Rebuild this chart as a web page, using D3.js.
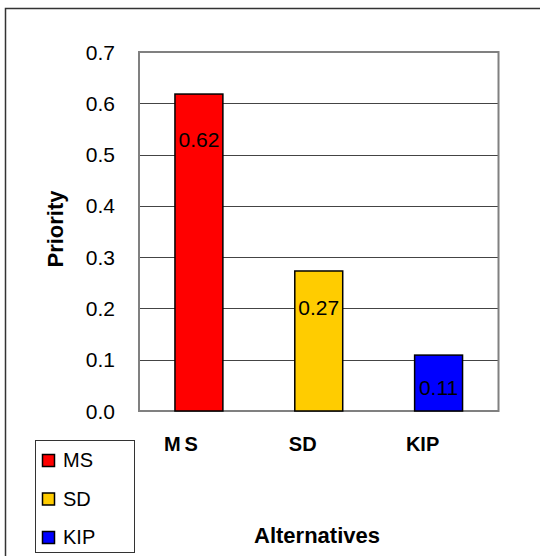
<!DOCTYPE html>
<html>
<head>
<meta charset="utf-8">
<script src="https://cdn.jsdelivr.net/npm/d3@7"></script>
<style>
  body { margin: 0; background: #fff; }
  text { font-family: "Liberation Sans", Arial, sans-serif; }
</style>
</head>
<body>
<div id="chart-container"></div>
<script>
// Chart data
const categories = ["MS", "SD", "KIP"];
const priorities = [0.618, 0.273, 0.109];
const valueLabels = ["0.62", "0.27", "0.11"];
const barColors = ["#ff0000", "#ffcc00", "#0000ff"];
const yTicks = [0, 0.1, 0.2, 0.3, 0.4, 0.5, 0.6, 0.7];

const width = 540, height = 556;
const plot = { left: 139, right: 498.5, top: 52, bottom: 411 };

const svg = d3.select("#chart-container")
  .append("svg")
  .attr("width", width)
  .attr("height", height);

svg.append("rect").attr("width", width).attr("height", height).attr("fill", "#fff");

// outer chart frame (runs off the right and bottom edge)
svg.append("rect")
  .attr("x", 5.5).attr("y", 8.5)
  .attr("width", width).attr("height", height)
  .attr("fill", "none")
  .attr("stroke", "#333")
  .attr("stroke-width", 1.5);

const yScale = d3.scaleLinear()
  .domain([0, 0.7])
  .range([plot.bottom, plot.top]);

const xScale = d3.scaleBand()
  .domain(categories)
  .range([plot.left, plot.right])
  .paddingInner(0.6)
  .paddingOuter(0.3);

// gridlines
svg.append("g")
  .selectAll("line")
  .data(yTicks.slice(1, -1))
  .enter()
  .append("line")
  .attr("x1", plot.left).attr("x2", plot.right)
  .attr("y1", d => Math.round(yScale(d)) + 0.5)
  .attr("y2", d => Math.round(yScale(d)) + 0.5)
  .attr("stroke", "#444")
  .attr("stroke-width", 1);

// plot frame
svg.append("rect")
  .attr("x", plot.left).attr("y", plot.top)
  .attr("width", plot.right - plot.left)
  .attr("height", plot.bottom - plot.top)
  .attr("fill", "none")
  .attr("stroke", "#808080")
  .attr("stroke-width", 2);

// y tick labels
svg.append("g")
  .selectAll("text")
  .data(yTicks)
  .enter()
  .append("text")
  .attr("x", 115)
  .attr("y", d => yScale(d))
  .attr("dy", "0.36em")
  .attr("text-anchor", "end")
  .attr("font-size", "21px")
  .attr("fill", "#000")
  .text(d => d3.format(".1f")(d));

// bars
svg.append("g")
  .selectAll("rect")
  .data(categories)
  .enter()
  .append("rect")
  .attr("x", d => xScale(d))
  .attr("y", (d, i) => yScale(priorities[i]))
  .attr("width", xScale.bandwidth())
  .attr("height", (d, i) => yScale(0) - yScale(priorities[i]))
  .attr("fill", (d, i) => barColors[i])
  .attr("stroke", "#000")
  .attr("stroke-width", 1.5);

// value labels inside bars
svg.append("g")
  .selectAll("text")
  .data(categories)
  .enter()
  .append("text")
  .attr("x", d => xScale(d) + xScale.bandwidth() / 2)
  .attr("y", (d, i) => {
    const top = yScale(priorities[i]);
    return top + 37 + 0.05 * (yScale(0) - top);
  })
  .attr("text-anchor", "middle")
  .attr("font-size", "21px")
  .attr("fill", "#000")
  .text((d, i) => valueLabels[i]);

// category labels
svg.append("g")
  .selectAll("text")
  .data(categories)
  .enter()
  .append("text")
  .attr("x", d => xScale(d) + xScale.bandwidth() / 2 - 16)
  .attr("y", 451)
  .attr("text-anchor", "middle")
  .attr("font-size", "20px")
  .attr("font-weight", "bold")
  .attr("letter-spacing", d => d === "MS" ? "4px" : "0px")
  .text(d => d);

// axis titles
svg.append("text")
  .attr("x", 317)
  .attr("y", 543)
  .attr("text-anchor", "middle")
  .attr("font-size", "22px")
  .attr("font-weight", "bold")
  .text("Alternatives");

svg.append("text")
  .attr("transform", "rotate(-90)")
  .attr("x", -229)
  .attr("y", 63)
  .attr("text-anchor", "middle")
  .attr("font-size", "22px")
  .attr("font-weight", "bold")
  .text("Priority");

// legend
const legend = svg.append("g");
legend.append("rect")
  .attr("x", 35.5).attr("y", 440.5)
  .attr("width", 99).attr("height", 112)
  .attr("fill", "#fff")
  .attr("stroke", "#333")
  .attr("stroke-width", 1);

const items = legend.selectAll("g.item")
  .data(categories)
  .enter()
  .append("g")
  .attr("class", "item")
  .attr("transform", (d, i) => `translate(0, ${i * 38.5})`);

items.append("rect")
  .attr("x", 42.5).attr("y", 454.5)
  .attr("width", 12).attr("height", 12)
  .attr("fill", (d, i) => barColors[i])
  .attr("stroke", "#000")
  .attr("stroke-width", 1.5);

items.append("text")
  .attr("x", 63)
  .attr("y", 467)
  .attr("font-size", "20px")
  .text(d => d);
</script>
</body>
</html>
